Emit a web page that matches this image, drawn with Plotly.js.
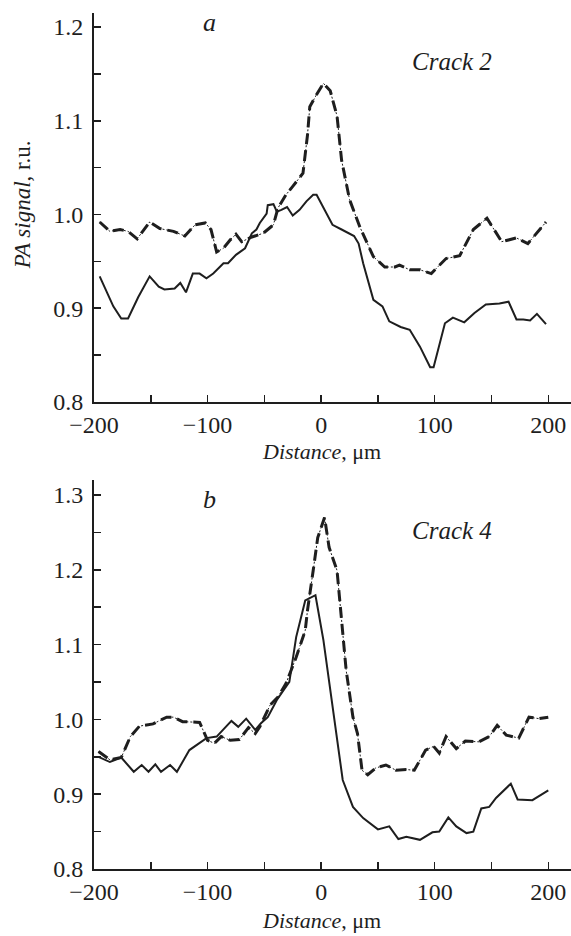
<!DOCTYPE html>
<html>
<head>
<meta charset="utf-8">
<script src="https://cdn.plot.ly/plotly-3.0.1.min.js"></script>
<style>html,body{margin:0;padding:0;background:#fff}#chart{width:571px;height:936px}</style>
</head>
<body>
<div id="chart"></div>
<script>
// Panel a (Crack 2)
const crack2SolidX = [-195,-183,-176,-170,-161,-151,-143,-138,-129,-124,-119,-113,-107,-101,-95,-86,-82,-75,-67,-61,-57,-54,-48,-47,-42,-39,-35,-30,-25,-19,-13,-7,-4,5,10,18,29,33,37,46,54,60,70,78,87,96,99,109,116,126,135,145,157,165,172,178,184,190,194,198];
const crack2SolidY = [0.934,0.902,0.889,0.889,0.912,0.934,0.923,0.920,0.921,0.927,0.917,0.937,0.937,0.932,0.937,0.948,0.948,0.957,0.964,0.980,0.984,0.991,1.001,1.010,1.011,1.003,1.005,1.008,0.999,1.005,1.014,1.021,1.021,1.000,0.989,0.984,0.977,0.969,0.948,0.909,0.902,0.886,0.880,0.877,0.859,0.837,0.837,0.884,0.890,0.885,0.895,0.904,0.905,0.907,0.888,0.888,0.887,0.894,0.888,0.883];
const crack2DashX = [-195,-186,-177,-170,-162,-151,-142,-130,-120,-111,-102,-97,-92,-86,-80,-75,-70,-61,-51,-42,-38,-31,-25,-16,-12,-10,-4,2,8,14,18,25,34,46,56,65,69,78,87,97,101,110,122,134,146,159,172,182,198];
const crack2DashY = [0.992,0.982,0.984,0.982,0.974,0.992,0.985,0.982,0.977,0.989,0.991,0.984,0.960,0.964,0.973,0.979,0.971,0.976,0.980,0.989,1.007,1.021,1.030,1.044,1.085,1.115,1.128,1.140,1.132,1.105,1.058,1.016,0.987,0.955,0.944,0.944,0.946,0.941,0.941,0.937,0.942,0.953,0.956,0.984,0.996,0.971,0.975,0.969,0.992];
// Panel b (Crack 4)
const crack4SolidX = [-196,-186,-176,-165,-158,-152,-146,-141,-133,-127,-116,-101,-92,-86,-79,-73,-66,-58,-53,-47,-39,-28,-22,-14,-5,2,11,19,28,37,50,60,68,75,87,98,104,112,119,128,134,141,148,154,167,173,186,200];
const crack4SolidY = [0.950,0.943,0.949,0.930,0.939,0.930,0.940,0.930,0.939,0.930,0.959,0.975,0.977,0.987,0.998,0.990,1.001,0.986,0.995,1.003,1.026,1.050,1.110,1.159,1.166,1.106,1.003,0.919,0.883,0.868,0.853,0.857,0.840,0.843,0.839,0.849,0.850,0.869,0.857,0.848,0.850,0.881,0.883,0.895,0.914,0.893,0.892,0.905];
const crack4DashX = [-196,-186,-176,-168,-160,-148,-136,-130,-122,-107,-100,-94,-88,-80,-72,-64,-58,-54,-45,-38,-31,-22,-14,-12,-7,-3,3,7,14,17,22,28,32,36,41,48,57,66,75,82,92,99,104,110,119,127,139,148,155,163,174,183,192,200];
const crack4DashY = [0.957,0.946,0.949,0.977,0.991,0.994,1.003,1.003,0.997,0.996,0.972,0.968,0.977,0.972,0.973,0.989,0.981,0.990,1.019,1.030,1.048,1.083,1.119,1.146,1.199,1.243,1.270,1.230,1.199,1.146,1.066,1.003,0.981,0.932,0.926,0.935,0.939,0.932,0.933,0.932,0.959,0.964,0.955,0.977,0.961,0.971,0.970,0.977,0.992,0.979,0.975,1.003,1.001,1.003];

const xTicks = [-200,-100,0,100,200];
const yTicksA = [0.8,0.9,1.0,1.1,1.2];
const yTicksB = [0.8,0.9,1.0,1.1,1.2,1.3];

const ink = '#1e1e1e';
const serif = '"Liberation Serif", "Times New Roman", Times, serif';

// dash-dot curve: thin dotted connector under thick dashes
function dashDot(x, y, xa, ya){
  return [
    {x:x, y:y, xaxis:xa, yaxis:ya, mode:'lines', line:{color:ink, width:1, dash:'2px,2px'}},
    {x:x, y:y, xaxis:xa, yaxis:ya, mode:'lines', line:{color:ink, width:3, dash:'11px,6px'}}
  ];
}

const traces = [
  {x: crack2SolidX, y: crack2SolidY, xaxis:'x', yaxis:'y', mode:'lines', line:{color:ink, width:2}},
  ...dashDot(crack2DashX, crack2DashY, 'x', 'y'),
  {x: crack4SolidX, y: crack4SolidY, xaxis:'x2', yaxis:'y2', mode:'lines', line:{color:ink, width:2}},
  ...dashDot(crack4DashX, crack4DashY, 'x2', 'y2')
];

function xAxis(anchor){
  return {anchor: anchor, domain:[0,1], range:[-200,220], showgrid:false, zeroline:false,
    showline:true, linecolor:ink, linewidth:2, ticks:'inside', ticklen:7, tickwidth:1.5, tickcolor:ink,
    tickvals: xTicks, ticklabelstandoff: 0,
    minor:{ticks:'inside', dtick:50, tick0:0, ticklen:7, tickwidth:1.5, tickcolor:ink, showgrid:false},
    tickfont:{family:serif, size:24, color:ink}};
}
function yAxis(anchor, dom, rng, vals){
  return {anchor: anchor, domain: dom, range: rng, showgrid:false, zeroline:false,
    showline:true, linecolor:ink, linewidth:2, ticks:'inside', ticklen:7, tickwidth:1.5, tickcolor:ink,
    tickvals: vals, tickformat:'.1f', ticklabelstandoff: 4,
    minor:{ticks:'inside', dtick:0.05, tick0:0.8, ticklen:7, tickwidth:1.5, tickcolor:ink, showgrid:false},
    tickfont:{family:serif, size:24, color:ink}};
}

const layout = {
  width:571, height:936, showlegend:false,
  paper_bgcolor:'#fff', plot_bgcolor:'#fff',
  margin:{l:94, r:0, t:13, b:67},
  font:{family:serif, color:ink},
  xaxis: xAxis('y'),
  yaxis: yAxis('x', [0.5456,1], [0.8,1.215], yTicksA),
  xaxis2: xAxis('y2'),
  yaxis2: yAxis('x2', [0,0.4544], [0.8,1.32], yTicksB),
  annotations:[
    {text:'<i>Distance</i>, μm', xref:'x', yref:'paper', x:0, y:0.5456, yshift:-50, xanchor:'center', yanchor:'middle', showarrow:false, font:{family:serif, size:22, color:ink}},
    {text:'<i>Distance</i>, μm', xref:'x2', yref:'paper', x:0, y:0, yshift:-51, xanchor:'center', yanchor:'middle', showarrow:false, font:{family:serif, size:22, color:ink}},
    {text:'<i>PA signal</i>, r.u.', xref:'paper', yref:'paper', x:0, xshift:-72, y:0.7755, xanchor:'center', yanchor:'middle', textangle:-90, showarrow:false, font:{family:serif, size:23, color:ink}},
    {text:'<i>a</i>', xref:'x', yref:'y', x:-98, y:1.205, xanchor:'center', yanchor:'middle', showarrow:false, font:{family:serif, size:26, color:ink}},
    {text:'<i>b</i>', xref:'x2', yref:'y2', x:-98, y:1.294, xanchor:'center', yanchor:'middle', showarrow:false, font:{family:serif, size:26, color:ink}},
    {text:'<i>Crack 2</i>', xref:'x', yref:'y', x:115, y:1.163, xanchor:'center', yanchor:'middle', showarrow:false, font:{family:serif, size:25, color:ink}},
    {text:'<i>Crack 4</i>', xref:'x2', yref:'y2', x:115, y:1.2524, xanchor:'center', yanchor:'middle', showarrow:false, font:{family:serif, size:25, color:ink}}
  ]
};

Plotly.newPlot('chart', traces, layout, {staticPlot:true, displayModeBar:false});
</script>
</body>
</html>
